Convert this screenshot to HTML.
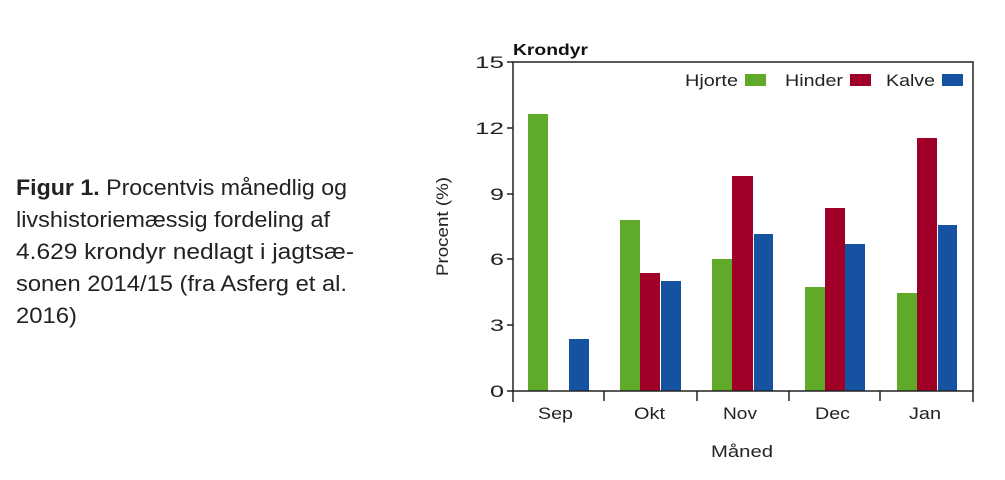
<!DOCTYPE html>
<html><head><meta charset="utf-8"><style>
html,body{margin:0;padding:0;background:#fff;}
body{width:1005px;height:480px;overflow:hidden;position:relative;font-family:"Liberation Sans",Arial,sans-serif;}
</style></head><body>
<svg width="1005" height="480" xmlns="http://www.w3.org/2000/svg" style="position:absolute;left:0;top:0" font-family="Liberation Sans, Arial, sans-serif">
<g font-size="22" fill="#222">
<text x="16" y="195" textLength="331" lengthAdjust="spacingAndGlyphs"><tspan font-weight="bold">Figur 1.</tspan> Procentvis månedlig og</text>
<text x="16" y="227" textLength="314" lengthAdjust="spacingAndGlyphs">livshistoriemæssig fordeling af</text>
<text x="16" y="259" textLength="338" lengthAdjust="spacingAndGlyphs">4.629 krondyr nedlagt i jagtsæ-</text>
<text x="16" y="291" textLength="331" lengthAdjust="spacingAndGlyphs">sonen 2014/15 (fra Asferg et al.</text>
<text x="16" y="323" textLength="61" lengthAdjust="spacingAndGlyphs">2016)</text>
</g>
<text x="513" y="55" font-size="16" font-weight="bold" fill="#111" textLength="75" lengthAdjust="spacingAndGlyphs">Krondyr</text>
<g fill="#5fab29">
<rect x="528" y="114" width="20" height="277"/>
<rect x="620" y="220" width="20" height="171"/>
<rect x="712" y="259" width="20" height="132"/>
<rect x="805" y="287" width="20" height="104"/>
<rect x="897" y="293" width="20" height="98"/>
</g>
<g fill="#a00028">
<rect x="640" y="273" width="20" height="118"/>
<rect x="732" y="176" width="21" height="215"/>
<rect x="825" y="208" width="20" height="183"/>
<rect x="917" y="138" width="20" height="253"/>
</g>
<g fill="#1552a1">
<rect x="569" y="339" width="20" height="52"/>
<rect x="661" y="281" width="20" height="110"/>
<rect x="754" y="234" width="19" height="157"/>
<rect x="845" y="244" width="20" height="147"/>
<rect x="938" y="225" width="19" height="166"/>
</g>
<rect x="513" y="62" width="460" height="329" fill="none" stroke="#222" stroke-width="1.5"/>
<g stroke="#222" stroke-width="1.5">
<line x1="507" y1="62" x2="513" y2="62"/>
<line x1="507" y1="128" x2="513" y2="128"/>
<line x1="507" y1="194" x2="513" y2="194"/>
<line x1="507" y1="259" x2="513" y2="259"/>
<line x1="507" y1="325" x2="513" y2="325"/>
<line x1="507" y1="391" x2="513" y2="391"/>
<line x1="513" y1="391" x2="513" y2="402"/>
<line x1="604" y1="391" x2="604" y2="401"/>
<line x1="697" y1="391" x2="697" y2="401"/>
<line x1="789" y1="391" x2="789" y2="401"/>
<line x1="880" y1="391" x2="880" y2="401"/>
<line x1="973" y1="391" x2="973" y2="402"/>
</g>
<g font-size="17" fill="#222" text-anchor="end">
<text x="504" y="68" textLength="29" lengthAdjust="spacingAndGlyphs">15</text>
<text x="504" y="134" textLength="29" lengthAdjust="spacingAndGlyphs">12</text>
<text x="504" y="200" textLength="14" lengthAdjust="spacingAndGlyphs">9</text>
<text x="504" y="265" textLength="14" lengthAdjust="spacingAndGlyphs">6</text>
<text x="504" y="331" textLength="14" lengthAdjust="spacingAndGlyphs">3</text>
<text x="504" y="397" textLength="14" lengthAdjust="spacingAndGlyphs">0</text>
</g>
<g font-size="17" fill="#222">
<text x="538" y="419" textLength="35" lengthAdjust="spacingAndGlyphs">Sep</text>
<text x="634" y="419" textLength="31" lengthAdjust="spacingAndGlyphs">Okt</text>
<text x="723" y="419" textLength="34" lengthAdjust="spacingAndGlyphs">Nov</text>
<text x="815" y="419" textLength="35" lengthAdjust="spacingAndGlyphs">Dec</text>
<text x="909" y="419" textLength="32" lengthAdjust="spacingAndGlyphs">Jan</text>
<text x="711" y="457" textLength="62" lengthAdjust="spacingAndGlyphs">Måned</text>
<text transform="translate(448,276) rotate(-90)" textLength="99" lengthAdjust="spacingAndGlyphs">Procent (%)</text>
<text x="685" y="86" textLength="53" lengthAdjust="spacingAndGlyphs">Hjorte</text>
<text x="785" y="86" textLength="58" lengthAdjust="spacingAndGlyphs">Hinder</text>
<text x="886" y="86" textLength="49" lengthAdjust="spacingAndGlyphs">Kalve</text>
</g>
<rect x="745" y="74" width="21" height="12" fill="#5fab29"/>
<rect x="850" y="74" width="21" height="12" fill="#a00028"/>
<rect x="942" y="74" width="21" height="12" fill="#1552a1"/>
</svg>
</body></html>
